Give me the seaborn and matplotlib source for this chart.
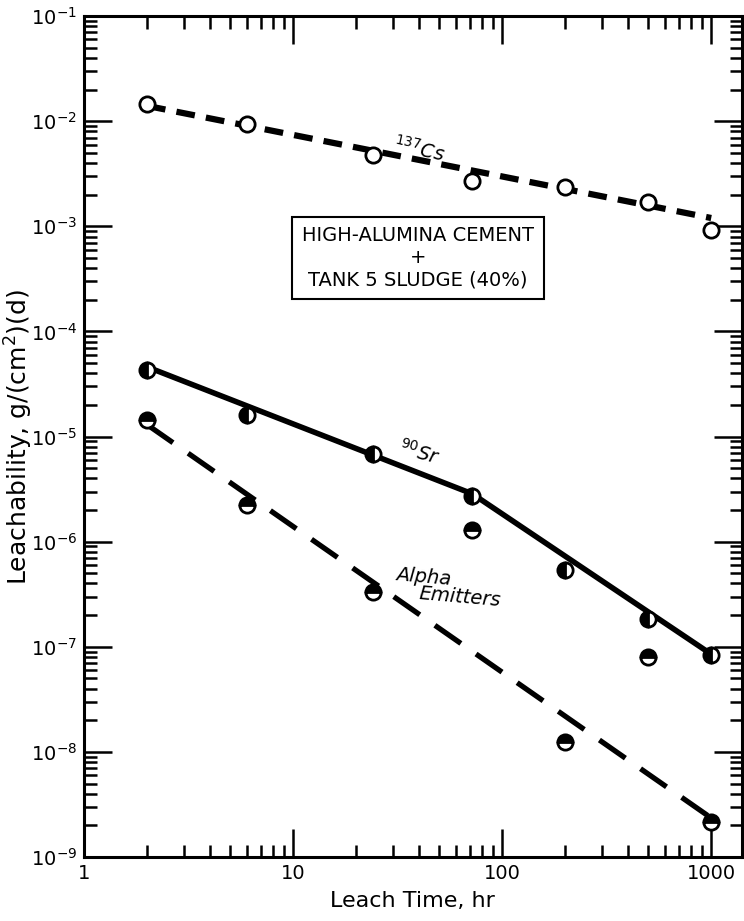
import numpy as np
import pandas as pd
import matplotlib
matplotlib.use("Agg")
import matplotlib.pyplot as plt
import matplotlib.ticker as mticker
import seaborn as sns

# measured points
leach_time = [2, 6, 24, 72, 200, 500, 1000]
cs137 = [1.45e-2, 9.5e-3, 4.8e-3, 2.7e-3, 2.35e-3, 1.7e-3, 9.2e-4]
sr90 = [4.3e-5, 1.6e-5, 6.8e-6, 2.7e-6, 5.4e-7, 1.85e-7, 8.4e-8]
alpha = [1.45e-5, 2.25e-6, 3.3e-7, 1.3e-6, 1.25e-8, 8.0e-8, 2.15e-9]

# fitted lines
cs_fit_x = [2, 1000]
cs_fit_y = [1.4e-2, 1.2e-3]
sr_fit_x = [2, 72, 1000]
sr_fit_y = [4.6e-5, 2.85e-6, 8.5e-8]
alpha_fit_x = [2, 1000]
alpha_fit_y = [1.3e-5, 2.35e-9]

y_ticks = [1e-9, 1e-8, 1e-7, 1e-6, 1e-5, 1e-4, 1e-3, 1e-2, 1e-1]
x_ticks = [1, 10, 100, 1000]
x_tick_labels = ["1", "10", "100", "1000"]

sns.set_style("ticks", {"text.color": "black", "axes.labelcolor": "black",
                        "xtick.color": "black", "ytick.color": "black",
                        "axes.edgecolor": "black"})
plt.rcParams["font.family"] = ["DejaVu Sans"]

fig = plt.figure(figsize=(7.44, 9.21), dpi=100)
ax = fig.add_axes([0.113, 0.0695, 0.884, 0.913])

sns.lineplot(x=cs_fit_x, y=cs_fit_y, ax=ax, color="black", linewidth=4.5)
ax.lines[-1].set_dashes([3, 1.8])
sns.lineplot(x=sr_fit_x, y=sr_fit_y, ax=ax, color="black", linewidth=4)
sns.lineplot(x=alpha_fit_x, y=alpha_fit_y, ax=ax, color="black", linewidth=3.8)
ax.lines[-1].set_dashes([6, 3.5])

ax.plot(leach_time, cs137, "o", ms=11, mfc="white", mec="black", mew=2,
        zorder=5)
ax.plot(leach_time, sr90, "o", ms=11, fillstyle="left", mfc="black",
        mfcalt="white", mec="black", mew=2, zorder=5)
ax.plot(leach_time, alpha, "o", ms=11, fillstyle="top", mfc="black",
        mfcalt="white", mec="black", mew=2, zorder=5)

ax.set_xscale("log")
ax.set_yscale("log")
ax.set_xlim(1, 1400)
ax.set_ylim(1e-9, 1e-1)

ax.set_yticks(y_ticks)
ax.yaxis.set_major_formatter(mticker.LogFormatterMathtext())
ax.yaxis.set_minor_locator(mticker.LogLocator(base=10, subs=np.arange(2, 10), numticks=20))
ax.yaxis.set_minor_formatter(mticker.NullFormatter())
ax.set_xticks(x_ticks)
ax.set_xticklabels(x_tick_labels)
ax.xaxis.set_minor_locator(mticker.LogLocator(base=10, subs=np.arange(2, 10), numticks=20))
ax.xaxis.set_minor_formatter(mticker.NullFormatter())

ax.tick_params(which="both", direction="in", top=True, right=True, width=1.8,
               labelsize=14, colors="black")
ax.tick_params(which="major", length=20, pad=5)
ax.tick_params(which="minor", length=9)
for s in ax.spines.values():
    s.set_linewidth(2.2)
    s.set_color("black")

ax.set_xlabel("Leach Time, hr", fontsize=16, labelpad=6, color="black")
ax.set_ylabel("Leachability, g/(cm$^2$)(d)", fontsize=18, color="black")
ax.yaxis.set_label_coords(-0.075, 0.5)

ax.text(40, 5.4e-3, "$^{137}$Cs", fontsize=14, style="italic", rotation=-12,
        ha="center", va="center")
ax.text(40, 7.0e-6, "$^{90}$Sr", fontsize=14, style="italic", rotation=-15,
        ha="center", va="center")
ax.text(42, 4.6e-7, "Alpha", fontsize=14, style="italic", rotation=-5,
        ha="center", va="center")
ax.text(63, 2.95e-7, "Emitters", fontsize=14, style="italic", rotation=-5,
        ha="center", va="center")
ax.text(39.6, 5.0e-4, "HIGH-ALUMINA CEMENT\n+\nTANK 5 SLUDGE (40%)",
        fontsize=14, ha="center", va="center", linespacing=1.2,
        bbox=dict(boxstyle="square,pad=0.5", fc="white", ec="black", lw=1.5))

fig.savefig("out.png", dpi=100)
